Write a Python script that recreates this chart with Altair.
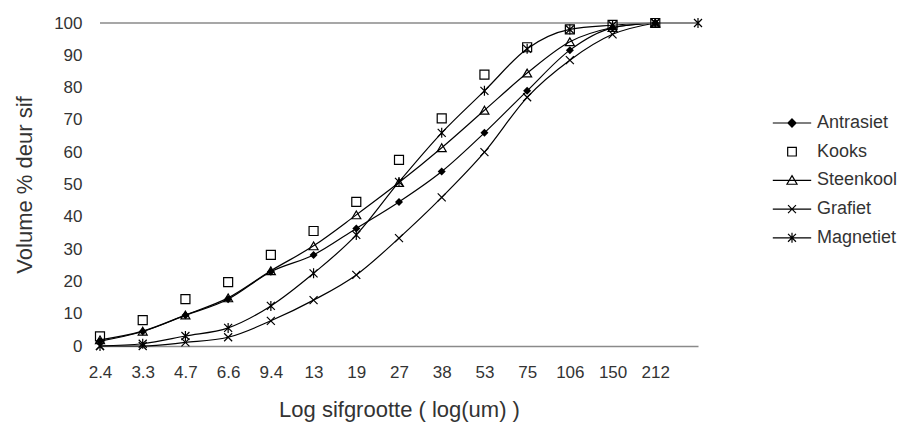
import altair as alt
import pandas as pd

# ---- data ----
sizes = ["2.4", "3.3", "4.7", "6.6", "9.4", "13", "19", "27", "38", "53", "75", "106", "150", "212"]
series_names = ["Antrasiet", "Kooks", "Steenkool", "Grafiet", "Magnetiet"]

antrasiet = [1.5, 4.5, 9.5, 14.5, 23.0, 28.2, 36.4, 44.6, 54.0, 66.0, 79.0, 91.6, 98.5, 100]
kooks = [3.0, 8.0, 14.5, 19.8, 28.2, 35.6, 44.6, 57.6, 70.5, 84.0, 92.5, 98.0, 99.4, 100]
steenkool = [1.9, 4.6, 9.6, 14.9, 23.3, 31.0, 40.6, 50.6, 61.4, 73.0, 84.5, 94.2, 98.6, 100]
grafiet = [0.0, 0.0, 1.1, 2.7, 7.8, 14.2, 22.0, 33.4, 46.0, 60.0, 77.0, 88.5, 96.5, 100]
magnetiet = [0.0, 0.7, 3.1, 5.6, 12.4, 22.5, 34.4, 50.8, 66.0, 79.0, 92.0, 98.0, 99.3, 100, 100]

series_values = {
    "Antrasiet": antrasiet,
    "Kooks": kooks,
    "Steenkool": steenkool,
    "Grafiet": grafiet,
    "Magnetiet": magnetiet,
}

rows = []
for name in series_names:
    for i, v in enumerate(series_values[name]):
        rows.append({"idx": i, "series": name, "leg": name, "value": v})
df = pd.DataFrame(rows)

FONT = "Liberation Sans"
TXT = "#333333"
AXC = "#8a8a8a"

label_expr = "[" + ",".join("'%s'" % s for s in sizes) + "][datum.value]"

x_enc = alt.X(
    "idx:Q",
    scale=alt.Scale(domain=[0, 14], nice=False, zero=False),
    axis=alt.Axis(
        values=list(range(len(sizes))),
        labelExpr=label_expr,
        title="Log sifgrootte ( log(um) )",
        grid=False, ticks=False,
        domainColor=AXC, domainWidth=1.5,
        labelPadding=18, titlePadding=19,
        labelFlush=False, labelOverlap=False,
        labelFontSize=17, titleFontSize=22, titleFontWeight="normal",
        labelFont=FONT, titleFont=FONT, labelColor=TXT, titleColor=TXT,
    ),
)
y_enc = alt.Y(
    "value:Q",
    scale=alt.Scale(domain=[0, 100], nice=False),
    axis=alt.Axis(
        values=list(range(0, 101, 10)),
        title="Volume % deur sif",
        grid=False, ticks=False, domain=False,
        labelPadding=18, titlePadding=17,
        labelFlush=False, labelOverlap=False,
        labelFontSize=17, titleFontSize=22, titleFontWeight="normal",
        labelFont=FONT, titleFont=FONT, labelColor=TXT, titleColor=TXT,
    ),
)

base = alt.Chart(df)

top_line = alt.Chart(pd.DataFrame({"value": [100]})).mark_rule(
    color=AXC, strokeWidth=1.5
).encode(y=y_enc)

lines = base.transform_filter(alt.datum.series != "Kooks").mark_line(
    color="black", strokeWidth=1.2, interpolate="monotone"
).encode(x=x_enc, y=y_enc, detail="series:N")

X_PATH = "M-1,-1L1,1M-1,1L1,-1"
AST_PATH = "M-1,-1L1,1M-1,1L1,-1M0,-1.25L0,1.25"
marker_specs = {
    "Antrasiet": dict(shape="diamond", size=64, filled=True),
    "Kooks": dict(shape="square", size=81, filled=False),
    "Steenkool": dict(shape="triangle-up", size=81, filled=False),
    "Grafiet": dict(shape=X_PATH, size=64, filled=False),
    "Magnetiet": dict(shape=AST_PATH, size=64, filled=False),
}

marker_layers = []
for name in series_names:
    spec = marker_specs[name]
    marker_layers.append(
        base.transform_filter(alt.datum.series == name).mark_point(
            shape=spec["shape"], size=spec["size"], filled=spec["filled"],
            color="black", strokeWidth=1.2, opacity=1,
        ).encode(x=x_enc, y=y_enc)
    )

# legend symbols: line segment + marker (unit = 12px with symbolSize 576)
LN = "M-1.6,0L1.6,0"
legend_paths = [
    LN + "M0,-0.34L0.34,0L0,0.34L-0.34,0Z",
    "M-0.36,-0.36L0.36,-0.36L0.36,0.36L-0.36,0.36Z",
    LN + "M0,-0.4L0.42,0.32L-0.42,0.32Z",
    LN + "M-0.33,-0.33L0.33,0.33M-0.33,0.33L0.33,-0.33",
    LN + "M-0.33,-0.33L0.33,0.33M-0.33,0.33L0.33,-0.33M0,-0.42L0,0.42",
]
legend_fills = ["black", "transparent", "transparent", "transparent", "transparent"]
legend_strokes = ["black"] * len(series_names)

leg_props = dict(
    orient="none", legendX=679, legendY=87, title=None,
    symbolSize=576, symbolStrokeWidth=1.2,
    symbolOpacity=1, labelFontSize=18, labelFont=FONT, labelColor=TXT,
    labelOffset=12, rowPadding=6.7, padding=0, symbolOffset=0,
)

legend_layer = base.mark_point(opacity=0, strokeWidth=1.2).encode(
    x=x_enc, y=y_enc,
    shape=alt.Shape("leg:N", scale=alt.Scale(domain=series_names, range=legend_paths),
                    legend=alt.Legend(**leg_props)),
    fill=alt.Fill("leg:N", scale=alt.Scale(domain=series_names, range=legend_fills),
                  legend=alt.Legend(**leg_props)),
    stroke=alt.Stroke("leg:N", scale=alt.Scale(domain=series_names, range=legend_strokes),
                      legend=alt.Legend(**leg_props)),
)

chart = alt.layer(lines, top_line, *marker_layers, legend_layer).properties(
    width=598, height=323,
    autosize=alt.AutoSizeParams(type="none"),
    padding={"left": 92, "top": 15, "right": 199, "bottom": 78},
    background="white",
).configure_view(stroke=None)

chart.save("out.html", embed_options={"renderer": "svg", "actions": False})
